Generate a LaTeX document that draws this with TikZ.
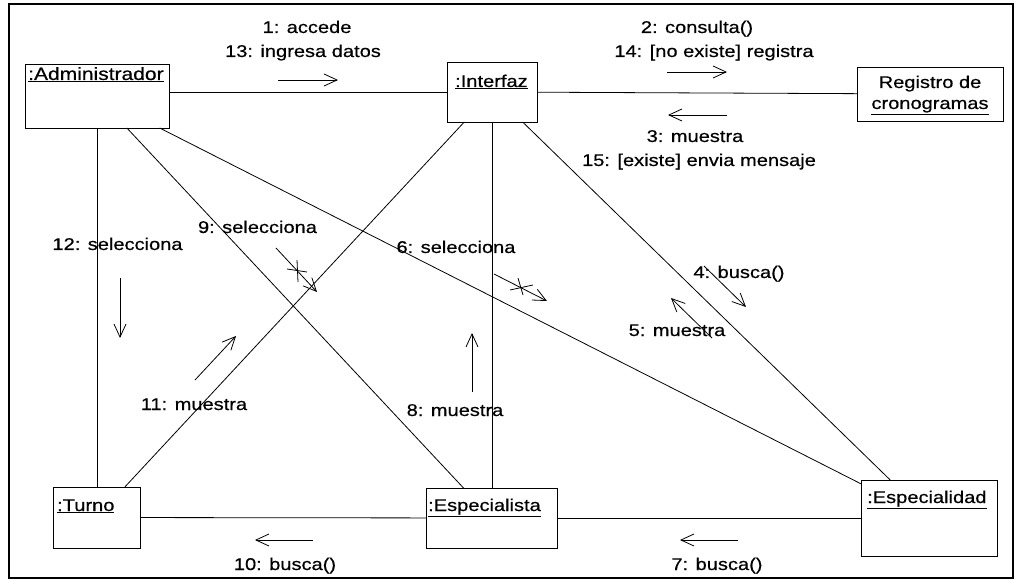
\documentclass[tikz,border=0pt]{standalone}
\usepackage{fontspec}
\setmainfont[FakeStretch=1.18,FakeBold=0.5]{Liberation Sans}
\usetikzlibrary{arrows.meta,calc}
\begin{document}
\begin{tikzpicture}[x=1pt,y=-1pt,
  obj/.style={draw,line width=0.9pt,inner sep=0pt,outer sep=0pt},
  oname/.style={font=\fontsize{17}{21}\selectfont,inner sep=0pt,anchor=base west},
  lbl/.style={font=\fontsize{17}{24}\selectfont,inner sep=0pt,anchor=base},
  link/.style={line width=0.8pt},
  msg/.style={line width=0.8pt,-{Straight Barb[length=13pt,width=12pt,line width=0.8pt]}},
  crossmark/.style={line width=0.8pt}
]
\useasboundingbox (0,0) rectangle (1018,580);
% frame
\draw[line width=1.4pt] (9,4) rectangle (1013,578);
\draw[line width=2.2pt] (9,4) -- (9,578);

% objects
\node[obj,minimum width=144pt,minimum height=64pt] (adm) at (97,96) {};
\node[obj,minimum width=90pt,minimum height=60pt] (int) at (492,92) {};
\node[obj,minimum width=146pt,minimum height=54pt] (reg) at (930,94) {};
\node[obj,minimum width=87pt,minimum height=61pt] (tur) at (96.5,517.5) {};
\node[obj,minimum width=131pt,minimum height=60pt] (esp) at (491.5,518) {};
\node[obj,minimum width=136pt,minimum height=76pt] (espd) at (929,518) {};

\node[oname,font=\fontsize{17.8}{21}\selectfont] (tadm) at (28,80) {\underline{:Administrador}};
\node[oname] (tint) at (455,87) {\underline{:Interfaz}};
\node[oname,anchor=base] (treg1) at (930,88) {Registro de};
\node[oname,anchor=base] (treg2) at (930,109) {\underline{cronogramas}};
\node[oname] (ttur) at (57,511) {\underline{:Turno}};
\node[oname] (tesp) at (428,511) {\underline{:Especialista}};
\node[oname] (tespd) at (867,503) {\underline{:Especialidad}};

% links
\draw[link] (int.west -| adm.east) -- (int.west);
\draw[link] (int) -- (reg);
\draw[link] (tur) -- (esp);
\draw[link] (esp) -- (espd);
\draw[link] (adm.south) -- (adm.south |- tur.north);
\draw[link] (int.south) -- (int.south |- esp.north);
\draw[link] (adm) -- (esp);
\draw[link] (adm) -- (espd);
\draw[link] (int) -- (tur);
\draw[link] (int) -- (espd);

% messages
\draw[msg] (278,80) -- (338,80);
\node[lbl] (m1) at (307,33) {1: accede};
\node[lbl] (m13) at (303,57) {13: ingresa datos};

\draw[msg] (667,72) -- (727,72);
\node[lbl] (m2) at (697,33) {2: consulta()};
\node[lbl] (m14) at (714,57) {14: [no existe] registra};

\draw[msg] (727,115) -- (668,115);
\node[lbl] (m3) at (695,142) {3: muestra};
\node[lbl] (m15) at (699,166) {15: [existe] envia mensaje};

\draw[msg] (120,278) -- (120,338);
\node[lbl] (m12) at (117.5,250) {12: selecciona};

\draw[msg] (276,248) -- (317,292);
\draw[crossmark] (297,260) -- (298,282) (287,269) -- (307,272);
\node[lbl] (m9) at (257.5,233) {9: selecciona};

\draw[msg] (494,274) -- (547,301);
\draw[crossmark] (510,290) -- (533,285) (518,278) -- (523,295);
\node[lbl] (m6) at (456,253) {6: selecciona};

\draw[msg] (704,266) -- (746,307);
\node[lbl] (m4) at (739,278) {4: busca()};

\draw[msg] (712,338) -- (671,298);
\node[lbl] (m5) at (677,336) {5: muestra};

\draw[msg] (195,380) -- (236,336);
\node[lbl] (m11) at (194,410) {11: muestra};

\draw[msg] (472,392) -- (472,333);
\node[lbl] (m8) at (455,416) {8: muestra};

\draw[msg] (313,540) -- (255,540);
\node[lbl] (m10) at (285,570) {10: busca()};

\draw[msg] (738,540) -- (680,540);
\node[lbl] (m7) at (717,570) {7: busca()};
\end{tikzpicture}
\end{document}
